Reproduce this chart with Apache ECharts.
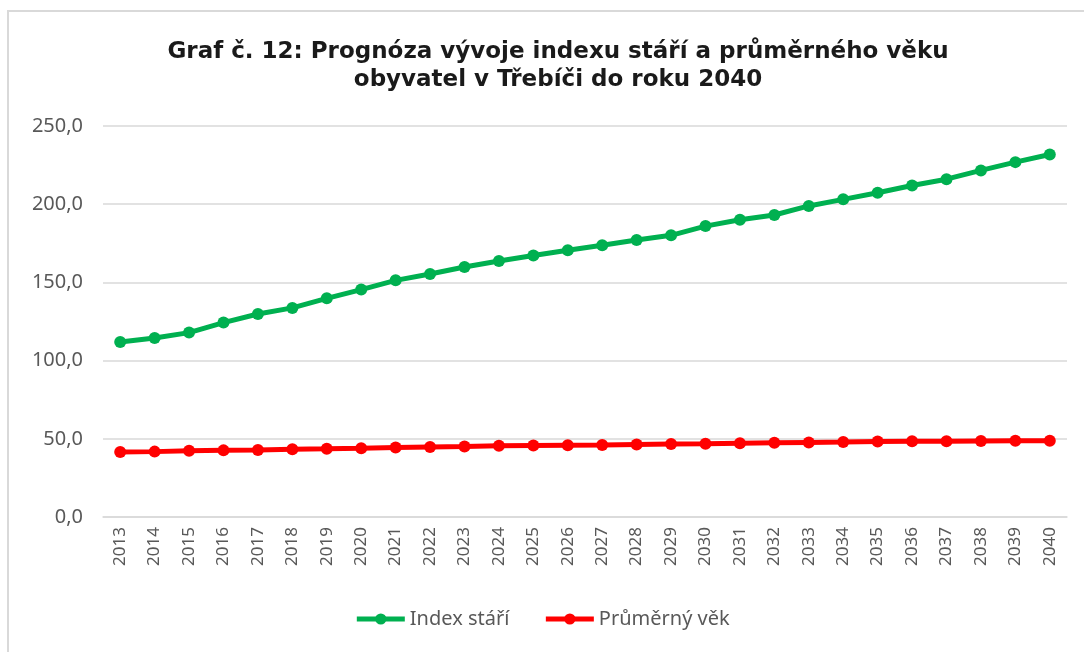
<!DOCTYPE html>
<html>
<head>
<meta charset="utf-8">
<script src="https://cdn.jsdelivr.net/npm/echarts@6/dist/echarts.min.js"></script>
<style>
  html, body { margin: 0; padding: 0; background: #fff; }
  #frame { position: absolute; left: 7px; top: 10px; width: 1090px; height: 660px;
           border-left: 2px solid #d9d9d9; border-top: 2px solid #d9d9d9; box-sizing: border-box; }
  #chart { position: absolute; left: 0; top: 0; width: 1084px; height: 652px; }
</style>
</head>
<body>
<div id="frame"></div>
<div id="chart"></div>
<script>
const years = ['2013','2014','2015','2016','2017','2018','2019','2020','2021','2022','2023','2024','2025','2026',
  '2027','2028','2029','2030','2031','2032','2033','2034','2035','2036','2037','2038','2039','2040']
const indexStari = [111.9, 114.5, 117.9, 124.3, 129.8, 133.7, 139.8, 145.4, 151.3, 155.4, 159.8, 163.7, 167.2, 170.5,
  173.7, 177.1, 180.1, 186.0, 190.1, 193.1, 198.9, 203.1, 207.3, 212.0, 216.0, 221.6, 226.9, 231.8]
const prumernyVek = [41.5, 41.8, 42.3, 42.6, 42.9, 43.3, 43.6, 44.0, 44.5, 44.8, 45.1, 45.5, 45.7, 45.9,
  46.1, 46.4, 46.6, 46.8, 47.2, 47.5, 47.7, 47.9, 48.2, 48.4, 48.5, 48.6, 48.7, 48.8]
const yTicks = [0, 50, 100, 150, 200, 250]

const chart = echarts.init(document.getElementById('chart'))
const option = {
  animation: false,
  title: {
    text: 'Graf č. 12: Prognóza vývoje indexu stáří a průměrného věku\nobyvatel v Třebíči do roku 2040',
    left: 553,
    top: 33,
    textAlign: 'center',
    textStyle: { fontFamily: 'DejaVu Sans', fontWeight: 'bold', fontSize: 23, color: '#1a1a1a', lineHeight: 28 }
  },
  legend: {
    bottom: 18,
    left: 'center',
    itemWidth: 48,
    itemHeight: 14,
    itemGap: 34,
    textStyle: { fontFamily: 'Noto Sans', fontSize: 20, color: '#595959' },
    data: [
      { name: 'Index stáří', lineStyle: { width: 5 } },
      { name: 'Průměrný věk', lineStyle: { width: 5 } }
    ]
  },
  grid: { left: 103, right: 17, top: 126, bottom: 135 },
  xAxis: {
    type: 'category',
    data: years,
    axisLine: { lineStyle: { color: '#d9d9d9', width: 1.5 } },
    axisTick: { show: false },
    axisLabel: { rotate: 90, color: '#595959', fontFamily: 'Noto Sans', fontSize: 17, margin: 10 }
  },
  yAxis: {
    type: 'value',
    min: yTicks[0],
    max: yTicks[yTicks.length - 1],
    interval: 50,
    axisLine: { show: false },
    axisTick: { show: false },
    splitLine: { lineStyle: { color: '#d9d9d9', width: 1.5 } },
    axisLabel: {
      color: '#595959', fontFamily: 'Noto Sans', fontSize: 20, margin: 20,
      formatter: function (v) { return v.toFixed(1).replace('.', ',') }
    }
  },
  series: [
    {
      name: 'Index stáří',
      type: 'line',
      data: indexStari,
      symbol: 'circle',
      symbolSize: 12,
      color: '#00B050',
      lineStyle: { width: 5, color: '#00B050' }
    },
    {
      name: 'Průměrný věk',
      type: 'line',
      data: prumernyVek,
      symbol: 'circle',
      symbolSize: 12,
      color: '#FF0000',
      lineStyle: { width: 5, color: '#FF0000' }
    }
  ]
}
chart.setOption(option)
</script>
</body>
</html>
